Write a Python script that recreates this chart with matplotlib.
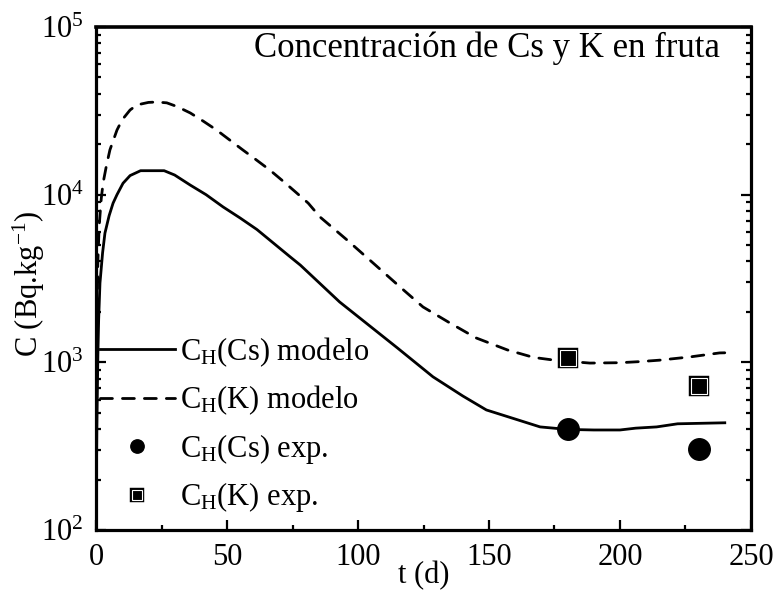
import matplotlib
matplotlib.use("Agg")
import matplotlib.pyplot as plt
import matplotlib.patheffects as pe
from matplotlib.ticker import LogLocator, MultipleLocator, NullFormatter

# ---- data ----
t_cs = [0, 0.3, 0.7, 1.0, 1.5, 2.5, 3.4, 5, 6.5, 8, 10.3, 13, 17, 22, 26, 30, 36, 42,
        48.5, 55, 61.4, 68, 74, 78, 85, 93, 103, 115, 128.6, 140, 149, 160, 169.5,
        180, 190, 200, 206, 214, 222, 240]
c_cs = [100, 400, 1100, 1800, 2970, 4500, 5900, 7500, 8900, 10000, 11700, 13000, 13900,
        13900, 13900, 13100, 11400, 10000, 8450, 7260, 6200, 5100, 4270, 3800, 3000, 2290,
        1720, 1220, 820, 630, 520, 459, 412, 398, 395, 395, 405, 412, 430, 436]

t_k = [0, 0.3, 0.7, 1.2, 2, 2.7, 4, 5.3, 8, 10, 13, 15.6, 20, 23, 27, 31, 36, 41, 46, 51,
       56, 61, 66.4, 71.5, 76.7, 81, 85.5, 95.8, 105.7, 116, 124.8, 135, 145, 157, 167,
       175, 188.5, 200, 207.6, 215, 226.7, 238, 240]
c_k = [100, 1500, 4000, 6500, 9500, 11760, 15000, 18500, 24300, 28000, 32000, 34300,
       35500, 35700, 35300, 33500, 30700, 27400, 24300, 21200, 18500, 16200, 14000, 12000,
       10200, 8900, 7360, 5370, 3920, 2820, 2140, 1720, 1400, 1186, 1070, 1030, 990, 995,
       1010, 1030, 1077, 1138, 1140]

t_exp = [180, 230]
cs_exp = [401, 305]
k_exp = [1062, 723]

labels = ["C$_\\mathrm{H}$(Cs) modelo", "C$_\\mathrm{H}$(K) modelo",
          "C$_\\mathrm{H}$(Cs) exp.", "C$_\\mathrm{H}$(K) exp."]
title_text = "Concentración de Cs y K en fruta"
xlabel = "t (d)"
ylabel = "C (Bq.kg$^{\\mathrm{-1}}$)"
xticks = [0, 50, 100, 150, 200, 250]

# ---- style ----
plt.rcParams['font.family'] = ['Liberation Serif', 'DejaVu Serif']
plt.rcParams['mathtext.fontset'] = 'custom'
plt.rcParams['mathtext.rm'] = 'Liberation Serif'
plt.rcParams['mathtext.it'] = 'Liberation Serif:italic'
plt.rcParams['mathtext.bf'] = 'Liberation Serif:bold'

fig = plt.figure(figsize=(7.77, 5.91), dpi=100)
ax = fig.add_axes([0.1236, 0.1032, 0.8429, 0.8511])

lw = 2.0
l1, = ax.plot(t_cs, c_cs, color='black', lw=lw, solid_joinstyle='round', zorder=2)
l2, = ax.plot(t_k, c_k, color='black', lw=lw, linestyle=(0, (4.3, 3.6)),
              dash_capstyle='round', zorder=2)
l3, = ax.plot(t_exp, cs_exp, linestyle='none', marker='o', markersize=15.5,
              color='black', zorder=3)
sq_pe = [pe.Stroke(linewidth=3.2, foreground='black'), pe.Normal()]
l4, = ax.plot(t_exp, k_exp, linestyle='none', marker='s', markersize=11.5,
              markerfacecolor='black', markeredgecolor='white', markeredgewidth=0.8,
              zorder=3, path_effects=sq_pe)

ax.set_yscale('log')
ax.set_xlim(0, 250)
ax.set_ylim(100, 1e5)
ax.set_xticks(xticks)
ax.set_xticklabels([str(v) for v in xticks])
ax.xaxis.set_minor_locator(MultipleLocator(25))
ax.yaxis.set_minor_locator(LogLocator(base=10, subs=range(2, 10)))
ax.yaxis.set_minor_formatter(NullFormatter())

for s in ax.spines.values():
    s.set_linewidth(2.3)
ax.spines['top'].set_linewidth(2.6)

ax.tick_params(which='both', direction='in', top=False, right=True,
               labelsize=22, width=1.6)
ax.tick_params(which='major', length=7, pad=9)
ax.tick_params(which='minor', length=3.6)

ax.set_xlabel(xlabel, fontsize=22)
ax.xaxis.set_label_coords(0.5, -0.062)
ax.set_ylabel(ylabel, fontsize=22)
ax.yaxis.set_label_coords(-0.075, 0.49)

ax.text(0.953, 0.94, title_text, transform=ax.transAxes, ha='right',
        va='baseline', fontsize=25)

leg = ax.legend([l1, l2, l3, l4], labels, loc='center left',
                bbox_to_anchor=(0.006, 0.209), frameon=False, fontsize=22,
                handlelength=2.45, handletextpad=0.17, labelspacing=0.48,
                borderpad=0, borderaxespad=0, markerscale=0.62)

fig.savefig('out.png', dpi=100)
